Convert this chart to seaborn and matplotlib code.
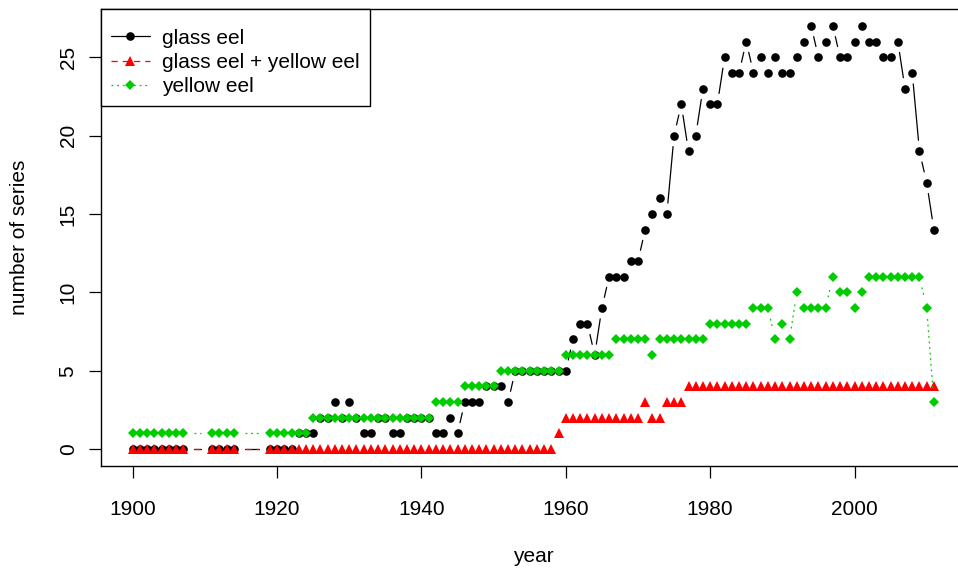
import matplotlib
matplotlib.use('Agg')
import matplotlib.pyplot as plt
from matplotlib.lines import Line2D
import numpy as np
import seaborn as sns

# years with data (gaps 1908-1910 and 1915-1918)
years = list(range(1900, 1908)) + list(range(1911, 1915)) + list(range(1919, 2012))

# values, 1900-1907 / 1911-1914 first, then 1919-2011
glass_eel = [0] * 8 + [0] * 4 + [
    0, 0, 0, 0, 1, 1, 1, 2, 2, 3, 2,          # 1919-1929
    3, 2, 1, 1, 2, 2, 1, 1, 2, 2,             # 1930s
    2, 2, 1, 1, 2, 1, 3, 3, 3, 4,             # 1940s
    4, 4, 3, 5, 5, 5, 5, 5, 5, 5,             # 1950s
    5, 7, 8, 8, 6, 9, 11, 11, 11, 12,         # 1960s
    12, 14, 15, 16, 15, 20, 22, 19, 20, 23,   # 1970s
    22, 22, 25, 24, 24, 26, 24, 25, 24, 25,   # 1980s
    24, 24, 25, 26, 27, 25, 26, 27, 25, 25,   # 1990s
    26, 27, 26, 26, 25, 25, 26, 23, 24, 19,   # 2000s
    17, 14]                                   # 2010-2011

glass_yellow_eel = [0] * 8 + [0] * 4 + [
    0, 0, 0, 0, 0, 0, 0, 0, 0, 0, 0,
    0, 0, 0, 0, 0, 0, 0, 0, 0, 0,
    0, 0, 0, 0, 0, 0, 0, 0, 0, 0,
    0, 0, 0, 0, 0, 0, 0, 0, 0, 1,
    2, 2, 2, 2, 2, 2, 2, 2, 2, 2,
    2, 3, 2, 2, 3, 3, 3, 4, 4, 4,
    4, 4, 4, 4, 4, 4, 4, 4, 4, 4,
    4, 4, 4, 4, 4, 4, 4, 4, 4, 4,
    4, 4, 4, 4, 4, 4, 4, 4, 4, 4,
    4, 4]

yellow_eel = [1] * 8 + [1] * 4 + [
    1, 1, 1, 1, 1, 1, 2, 2, 2, 2, 2,
    2, 2, 2, 2, 2, 2, 2, 2, 2, 2,
    2, 2, 3, 3, 3, 3, 4, 4, 4, 4,
    4, 5, 5, 5, 5, 5, 5, 5, 5, 5,
    6, 6, 6, 6, 6, 6, 6, 7, 7, 7,
    7, 7, 6, 7, 7, 7, 7, 7, 7, 7,
    8, 8, 8, 8, 8, 8, 9, 9, 9, 7,
    8, 7, 10, 9, 9, 9, 9, 11, 10, 10,
    9, 10, 11, 11, 11, 11, 11, 11, 11, 11,
    9, 3]

labels = ['glass eel', 'glass eel + yellow eel', 'yellow eel']
colors = ['black', '#ff0000', '#00cd00']
markers = ['o', '^', 'D']
msizes = [6.2, 7.2, 4.7]
lstyles = ['-', (0, (5, 4)), (0, (1.5, 3))]

sns.set_theme(style='ticks')
plt.rcParams['font.family'] = ['Liberation Sans', 'DejaVu Sans']
plt.rcParams['axes.edgecolor'] = 'black'
plt.rcParams['axes.linewidth'] = 1.0
plt.rcParams['text.color'] = 'black'
plt.rcParams['axes.labelcolor'] = 'black'
plt.rcParams['xtick.color'] = 'black'
plt.rcParams['ytick.color'] = 'black'

fs = 15

fig = plt.figure(figsize=(9.58, 5.69), dpi=100)
ax = fig.add_axes([0.1051, 0.181, 0.9032, 0.8032])
ax.set_xlim(1895.56, 2015.44)
ax.set_ylim(-1.08, 28.08)

# R type="b": lines between points, leaving a gap around each point
gap_px = 11
series = [glass_eel, glass_yellow_eel, yellow_eel]
for vals, col, mk, ms, ls in zip(series, colors, markers, msizes, lstyles):
    pts = ax.transData.transform(np.column_stack([years, vals]))
    for i in range(len(years) - 1):
        d = np.hypot(*(pts[i + 1] - pts[i]))
        if d <= 2 * gap_px:
            continue
        t = gap_px / d
        x0, x1 = years[i], years[i + 1]
        y0, y1 = vals[i], vals[i + 1]
        ax.plot([x0 + t * (x1 - x0), x1 - t * (x1 - x0)],
                [y0 + t * (y1 - y0), y1 - t * (y1 - y0)],
                color=col, linestyle=ls, linewidth=0.9)
    sns.lineplot(x=years, y=vals, ax=ax, color=col, marker=mk,
                 markersize=ms, markeredgewidth=0, linestyle='none',
                 estimator=None, sort=False)

ax.set_xticks([1900, 1920, 1940, 1960, 1980, 2000])
ax.set_yticks([0, 5, 10, 15, 20, 25])
ax.tick_params(axis='both', direction='out', length=8.6, width=0.9,
               labelsize=fs)
ax.tick_params(axis='x', pad=16)
ax.tick_params(axis='y', pad=8)
for lab in ax.get_yticklabels():
    lab.set_rotation(90)
    lab.set_va('center')

for side in ['top', 'right', 'bottom', 'left']:
    ax.spines[side].set_visible(True)
    ax.spines[side].set_color('black')

ax.set_xlabel('year', fontsize=fs, labelpad=20)
ax.set_ylabel('number of series', fontsize=fs, labelpad=21)

handles = [Line2D([], [], color=c, marker=m, markersize=s, markeredgewidth=0,
                  linestyle=l, linewidth=0.9)
           for c, m, s, l in zip(colors, markers, msizes, lstyles)]
leg = ax.legend(handles, labels, loc='upper left', bbox_to_anchor=(0, 1),
                borderaxespad=0, fontsize=fs, frameon=True, fancybox=False,
                framealpha=1, edgecolor='black', handlelength=1.85,
                handletextpad=0.58, labelspacing=0.25, borderpad=0.5,
                title=' ', title_fontsize=3)
leg.get_frame().set_linewidth(1.0)

fig.savefig('out.png', dpi=100)
